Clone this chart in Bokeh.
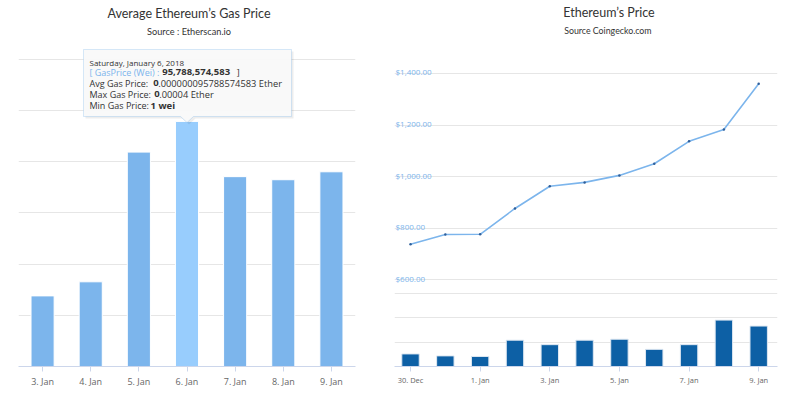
from bokeh.plotting import figure
from bokeh.layouts import row
from bokeh.models import (Range1d, FactorRange, FixedTicker, Grid, Label,
                          PolyAnnotation, ColumnDataSource)
from bokeh.core.properties import value
from bokeh.embed import file_html
from bokeh.resources import INLINE

FONT = "Open Sans"
TFONT = "Lato"

# ---------------- data: left chart (gas price, Gwei) ----------------
gas_days = ["3. Jan", "4. Jan", "5. Jan", "6. Jan", "7. Jan", "8. Jan", "9. Jan"]
gas_price_gwei = [27.6, 33.1, 83.8, 95.79, 74.2, 73.0, 76.1]
gas_highlight_day = "6. Jan"
gas_grid_ticks = [20, 40, 60, 80, 100, 120]
gas_title = "Average Ethereum’s Gas Price"
gas_subtitle = "Source : Etherscan.io"

# ---------------- data: right chart (price USD, volume bn USD) -------
price_days = ["30. Dec", "31. Dec", "1. Jan", "2. Jan", "3. Jan", "4. Jan",
              "5. Jan", "6. Jan", "7. Jan", "8. Jan", "9. Jan"]
price_usd = [738, 776, 777, 877, 963, 978, 1005, 1050, 1137, 1183, 1360]
volume_busd = [1.29, 1.09, 1.03, 2.70, 2.24, 2.70, 2.80, 1.76, 2.24, 4.76, 4.15]
price_ticks = [600, 800, 1000, 1200, 1400]
price_tick_labels = ["$600.00", "$800.00", "$1,000.00", "$1,200.00", "$1,400.00"]
volume_ticks = [2.5, 5.0, 7.5]
price_title = "Ethereum’s Price"
price_subtitle = "Source  Coingecko.com"

BAR = "#7cb5ec"
BAR_HI = "#98cdfd"
GRID = "#e6e6e6"
AXIS = "#ccd6eb"
TXT = "#333333"
LBL = "#666666"

H = 390
BOTTOM = 22

# =================== LEFT FIGURE ===================
colors = [BAR_HI if d == gas_highlight_day else BAR for d in gas_days]
src = ColumnDataSource(dict(day=gas_days, v=gas_price_gwei, c=colors))

p1 = figure(width=388, height=H, x_range=FactorRange(*gas_days, range_padding=0),
            y_range=Range1d(0, 143.05), output_backend="svg",
            toolbar_location=None, min_border_left=18, min_border_right=33,
            min_border_top=0, min_border_bottom=BOTTOM)
p1.outline_line_color = None
p1.vbar(x="day", top="v", width=0.48, source=src, fill_color="c",
        line_color="white", line_width=1)
p1.xgrid.visible = False
p1.ygrid.ticker = FixedTicker(ticks=gas_grid_ticks)
p1.ygrid.grid_line_color = GRID
p1.yaxis.visible = False
xa = p1.xaxis[0]
xa.axis_line_color = AXIS
xa.major_tick_line_color = AXIS
xa.major_tick_out = 5
xa.major_tick_in = 0
xa.minor_tick_line_color = None
xa.major_label_text_font = FONT
xa.major_label_text_font_size = "9px"
xa.major_label_text_color = LBL
xa.major_label_standoff = 3

# titles (screen units relative to the plot frame)
p1.add_layout(Label(x=170.5, y=353.5, x_units="screen", y_units="screen",
                    text=gas_title, text_align="center", text_baseline="middle",
                    text_font=TFONT, text_font_size="12.5px", text_color=TXT))
p1.add_layout(Label(x=170.5, y=335, x_units="screen", y_units="screen",
                    text=gas_subtitle, text_align="center", text_baseline="middle",
                    text_font=TFONT, text_font_size="9.2px", text_color=TXT))

# tooltip shape with pointer
shadow = PolyAnnotation(xs=[67, 275, 275, 177, 170.5, 164, 67],
                        ys=[315, 315, 248, 248, 242, 248, 248],
                        xs_units="screen", ys_units="screen",
                        fill_color="#000000", fill_alpha=0.07, line_color=None)
tip = PolyAnnotation(xs=[65, 273, 273, 175, 168.5, 162, 65],
                     ys=[317, 317, 250, 250, 244, 250, 250],
                     xs_units="screen", ys_units="screen",
                     fill_color="#f9f9f9", fill_alpha=0.97,
                     line_color=BAR, line_width=1)
p1.add_layout(shadow)
p1.add_layout(tip)


def tl(x, y, text, size="9px", color=TXT, style="normal"):
    p1.add_layout(Label(x=x, y=y, x_units="screen", y_units="screen", text=text,
                        text_align="left", text_baseline="middle", text_font=FONT,
                        text_font_size=size, text_color=color, text_font_style=style))


tl(71, 304.3, "Saturday, January 6, 2018", size="8px")
tl(71, 294.3, "[ GasPrice (Wei) :", color=BAR)
tl(143.7, 294.3, "95,788,574,583", size="9.5px", style="bold")
tl(218.3, 294.3, "]")
tl(71, 283.3, "Avg Gas Price:")
tl(134.7, 283.3, "0", size="9.5px", style="bold")
tl(139.7, 283.3, ".000000095788574583 Ether", size="9.3px")
tl(71, 272.3, "Max Gas Price:")
tl(135.7, 272.3, "0", size="9.5px", style="bold")
tl(140.7, 272.3, ".00004 Ether", size="9.3px")
tl(71, 261, "Min Gas Price:")
tl(132, 261, "1 wei", size="9.5px", style="bold")

# =================== RIGHT FIGURE ===================
idx = list(range(len(price_days)))
src2 = ColumnDataSource(dict(i=idx, p=price_usd, vol=volume_busd))

p2 = figure(width=404, height=H, x_range=Range1d(-0.46, len(idx) - 1 + 0.54),
            y_range=Range1d(264.9, 1682.4), output_backend="svg",
            toolbar_location=None, min_border_left=6, min_border_right=15,
            min_border_top=0, min_border_bottom=BOTTOM)
p2.extra_y_ranges = {"vol": Range1d(0, 37.55)}
p2.outline_line_color = None
p2.xgrid.visible = False
p2.ygrid.ticker = FixedTicker(ticks=price_ticks)
p2.ygrid.grid_line_color = GRID
vgrid = Grid(dimension=1, ticker=FixedTicker(ticks=volume_ticks), y_range_name="vol",
             grid_line_color=GRID)
p2.add_layout(vgrid)
p2.yaxis.visible = False

p2.vbar(x="i", top="vol", width=0.5, source=src2, y_range_name="vol",
        fill_color="#0d60a5", line_color="#dfe8f2", line_width=1)
p2.line(x="i", y="p", source=src2, line_color=BAR, line_width=1.6)
p2.scatter(x="i", y="p", source=src2, size=2.5, fill_color="#2f5f9a",
           line_color=None)

# price tick labels drawn inside the plot area above their gridlines
lab_src = ColumnDataSource(dict(x=[p2.x_range.start] * len(price_ticks),
                                y=price_ticks, t=price_tick_labels))
p2.text(x="x", y="y", text="t", source=lab_src, x_offset=1, y_offset=-1.5,
        text_align="left", text_baseline="alphabetic", text_font=value(FONT),
        text_font_size="8px", text_color="#7cb5ec")

xa2 = p2.xaxis[0]
xa2.ticker = FixedTicker(ticks=idx[::2])
xa2.major_label_overrides = {i: price_days[i] for i in idx[::2]}
xa2.axis_line_color = AXIS
xa2.major_tick_line_color = AXIS
xa2.major_tick_out = 5
xa2.major_tick_in = 0
xa2.minor_tick_line_color = None
xa2.major_label_text_font = FONT
xa2.major_label_text_font_size = "7.5px"
xa2.major_label_text_color = LBL
xa2.major_label_standoff = 3

p2.add_layout(Label(x=214.5, y=354, x_units="screen", y_units="screen",
                    text=price_title, text_align="center", text_baseline="middle",
                    text_font=TFONT, text_font_size="12.5px", text_color=TXT))
p2.add_layout(Label(x=214.5, y=336, x_units="screen", y_units="screen",
                    text=price_subtitle, text_align="center", text_baseline="middle",
                    text_font=TFONT, text_font_size="8.8px", text_color=TXT))

layout = row(p1, p2)
open("out.html", "w").write(file_html(layout, INLINE))
